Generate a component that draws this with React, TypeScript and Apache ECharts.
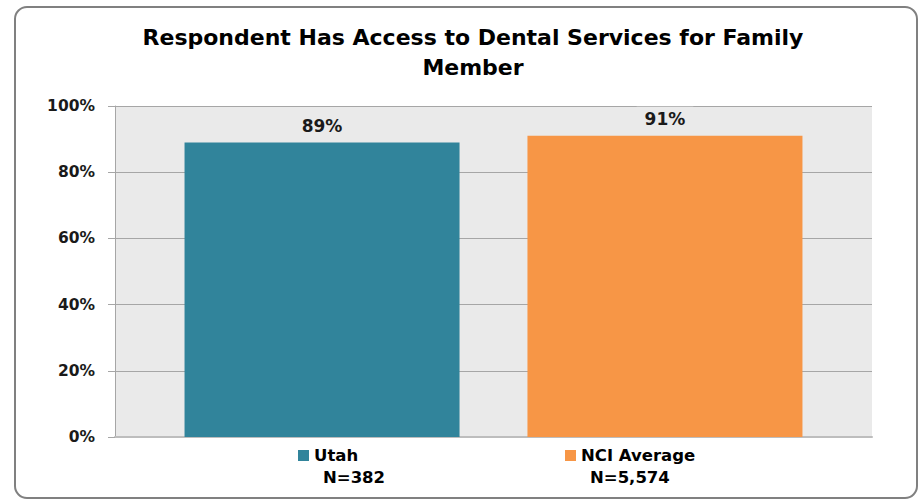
import React, { useEffect, useRef } from "react";
import * as echarts from "echarts";

const titleText = "Respondent Has Access to Dental Services for Family\nMember";
const categories = [""];
const seriesNames = ["Utah", "NCI Average"];
const seriesValues = [89, 91];
const sampleSizes = ["N=382", "N=5,574"];
const seriesColors = ["#31849B", "#F79646"];
const yTicks = { min: 0, max: 100, interval: 20 };

const FONT = "DejaVu Sans";

export default function App() {
  const ref = useRef<HTMLDivElement>(null);
  useEffect(() => {
    if (!ref.current) return;
    const chart = echarts.init(ref.current, null, { renderer: "svg" });
    const legendLefts = [298, 565];
    const nLefts = [323, 590];
    chart.setOption({
      animation: false,
      backgroundColor: "#ffffff",
      title: {
        text: titleText,
        left: 468,
        textAlign: "center",
        top: 17,
        textStyle: {
          fontFamily: FONT,
          fontWeight: "bold",
          fontSize: 22,
          color: "#000",
          lineHeight: 30,
        },
      },
      grid: {
        left: 115,
        right: 49,
        top: 106,
        bottom: 63,
        show: true,
        backgroundColor: "#EAEAEA",
        borderWidth: 0,
      },
      legend: seriesNames.map((name, i) => ({
        data: [name],
        left: legendLefts[i],
        top: 447,
        itemWidth: 11,
        itemHeight: 11,
        itemGap: 6,
        icon: "rect",
        padding: 0,
        selectedMode: false,
        textStyle: {
          fontFamily: FONT,
          fontWeight: "bold",
          fontSize: 16.5,
          color: "#000",
        },
      })),
      xAxis: {
        type: "category",
        data: categories,
        axisLine: { show: true, lineStyle: { color: "#BDBDBD", width: 2 } },
        axisTick: { show: false },
        axisLabel: { show: false },
      },
      yAxis: {
        type: "value",
        min: yTicks.min,
        max: yTicks.max,
        interval: yTicks.interval,
        axisLabel: {
          formatter: "{value}%",
          fontFamily: FONT,
          fontWeight: "bold",
          fontSize: 15.5,
          color: "#1a1a1a",
          margin: 20,
        },
        axisLine: { show: true, lineStyle: { color: "#A6A6A6", width: 1 } },
        axisTick: { show: true, length: 7, lineStyle: { color: "#A6A6A6" } },
        splitLine: { show: true, lineStyle: { color: "#A6A6A6", width: 1 } },
      },
      series: seriesNames.map((name, i) => ({
        type: "bar",
        name,
        data: [seriesValues[i]],
        barWidth: 275,
        barGap: "24.7%",
        itemStyle: { color: seriesColors[i] },
        label: {
          show: true,
          position: "top",
          distance: 4,
          formatter: "{c}%",
          fontFamily: FONT,
          fontWeight: "bold",
          fontSize: 17,
          color: "#1a1a1a",
          backgroundColor: "#EAEAEA",
          padding: [4, 8],
        },
      })),
      graphic: [
        {
          type: "rect",
          shape: { x: 15, y: 7, width: 902, height: 491, r: 12 },
          style: { fill: "none", stroke: "#808080", lineWidth: 2 },
          silent: true,
          z: 100,
        },
        ...sampleSizes.map((t, i) => ({
          type: "text",
          left: nLefts[i],
          top: 469,
          style: {
            text: t,
            fontFamily: FONT,
            fontWeight: "bold",
            fontSize: 16.5,
            fill: "#000",
          },
        })),
      ],
    });
    return () => chart.dispose();
  }, []);
  return (
    <div
      ref={ref}
      style={{ position: "fixed", left: 0, top: 0, width: 921, height: 500 }}
    />
  );
}
